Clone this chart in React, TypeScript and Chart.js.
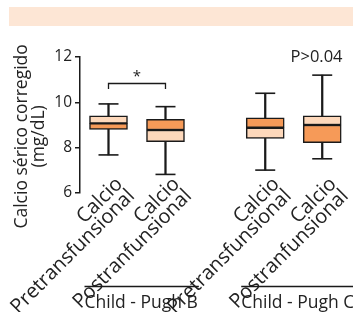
import React, { useEffect, useRef } from 'react';
import { Chart, registerables } from 'chart.js';

Chart.register(...registerables);

// ---- data ----
const groupNames = ['Child - Pugh B', 'Child - Pugh C'];
const categoryLabels = [
  ['Calcio', 'Pretransfunsional'],
  ['Calcio', 'Postranfunsional'],
  ['Calcio', 'Pretransfunsional'],
  ['Calcio', 'Postranfunsional'],
];
const groupOf = [0, 0, 1, 1];
const slotInGroup = [0, 1, 0, 1];
const whiskerLow = [7.68, 6.82, 7.01, 7.51];
const quartile1 = [8.81, 8.26, 8.41, 8.22];
const medians = [9.07, 8.78, 8.88, 9.0];
const quartile3 = [9.4, 9.25, 9.32, 9.4];
const whiskerHigh = [9.93, 9.81, 10.4, 11.2];
const yTickValues = [6, 8, 10, 12];
const yTitle = ['Calcio sérico corregido', '(mg/dL)'];
const sigPair = [0, 1];
const sigLabel = '*';
const sigBracketValue = 10.87;
const pValueLabel = 'P>0.04';
const pValueY = 12;

// ---- layout / style ----
const GROUP_STRIDE = 2.75;
const FONT = '"Open Sans", "DejaVu Sans", sans-serif';
const INK = '#1a1a1a';
const TEXT = '#222222';
const ORANGE = '#f69a58';
const LIGHT = '#fdd8bb';
const upperColors = [LIGHT, ORANGE, ORANGE, LIGHT];
const lowerColors = [ORANGE, LIGHT, LIGHT, ORANGE];
const LABEL_FONT_SIZE = 20;
const LABEL_LINE_HEIGHT = 17;

const xPos = (i: number) => groupOf[i] * GROUP_STRIDE + slotInGroup[i];
const xs = categoryLabels.map((_, i) => xPos(i));

const annotationPlugin = {
  id: 'annotations',
  afterDraw(chart: any) {
    const { ctx, chartArea } = chart;
    const x = chart.scales.x;
    const y = chart.scales.y;
    ctx.save();
    ctx.strokeStyle = INK;
    ctx.fillStyle = TEXT;
    ctx.lineWidth = 1.3;

    // rotated (-45deg), right-aligned category labels at the x scale positions
    ctx.font = `${LABEL_FONT_SIZE}px ${FONT}`;
    ctx.textAlign = 'right';
    ctx.textBaseline = 'middle';
    categoryLabels.forEach((lines, i) => {
      const px = x.getPixelForValue(xs[i]);
      ctx.save();
      ctx.translate(px + 11, chartArea.bottom - 12);
      ctx.rotate(-Math.PI / 4);
      lines.forEach((line, j) => ctx.fillText(line, 0, j * LABEL_LINE_HEIGHT));
      ctx.restore();
    });

    // significance bracket
    const xa = x.getPixelForValue(xs[sigPair[0]]);
    const xb = x.getPixelForValue(xs[sigPair[1]]);
    const yb = Math.round(y.getPixelForValue(sigBracketValue)) + 0.5;
    const yl = y.getPixelForValue(sigBracketValue - 0.28);
    ctx.beginPath();
    ctx.moveTo(xa, yl);
    ctx.lineTo(xa, yb);
    ctx.lineTo(xb, yb);
    ctx.lineTo(xb, yl);
    ctx.stroke();
    ctx.textAlign = 'center';
    ctx.textBaseline = 'middle';
    ctx.font = `15px ${FONT}`;
    ctx.fillText(sigLabel, (xa + xb) / 2, yb - 7);

    // p value
    ctx.font = `16.5px ${FONT}`;
    ctx.fillText(pValueLabel, x.getPixelForValue(xs[3] - 0.1), y.getPixelForValue(pValueY));

    // group labels
    ctx.font = `17.5px ${FONT}`;
    ctx.textAlign = 'left';
    groupNames.forEach((g, gi) => {
      const members = xs.filter((_, i) => groupOf[i] === gi);
      const left = x.getPixelForValue(Math.min(...members)) - 24;
      const textW = ctx.measureText(g).width;
      const right = Math.max(left + textW + 1, x.getPixelForValue(Math.max(...members)) + 31);
      const ly = Math.round(chartArea.bottom + 93) + 0.5;
      ctx.beginPath();
      ctx.moveTo(left, ly);
      ctx.lineTo(right, ly);
      ctx.stroke();
      ctx.fillText(g, left, ly + 17);
    });
    ctx.restore();
  },
};

export default function App() {
  const canvasRef = useRef<HTMLCanvasElement | null>(null);

  useEffect(() => {
    if (!canvasRef.current) return;
    const boxCommon = {
      type: 'bar' as const,
      borderColor: INK,
      borderWidth: 1.5,
      borderSkipped: false,
      barThickness: 38,
      grouped: false,
    };
    const chart = new Chart(canvasRef.current, {
      type: 'bar',
      data: {
        datasets: [
          {
            ...boxCommon,
            label: 'upper',
            data: xs.map((x, i) => ({ x, y: [medians[i], quartile3[i]] })),
            backgroundColor: upperColors,
          },
          {
            ...boxCommon,
            label: 'lower',
            data: xs.map((x, i) => ({ x, y: [quartile1[i], medians[i]] })),
            backgroundColor: lowerColors,
          },
          {
            type: 'bar',
            label: 'whiskerLow',
            data: xs.map((x, i) => ({ x, y: [whiskerLow[i], quartile1[i]] })),
            backgroundColor: INK,
            borderWidth: 0,
            barThickness: 1.6,
            grouped: false,
          },
          {
            type: 'bar',
            label: 'whiskerHigh',
            data: xs.map((x, i) => ({ x, y: [quartile3[i], whiskerHigh[i]] })),
            backgroundColor: INK,
            borderWidth: 0,
            barThickness: 1.6,
            grouped: false,
          },
          {
            type: 'scatter',
            label: 'caps',
            data: [
              ...xs.map((x, i) => ({ x, y: whiskerLow[i] })),
              ...xs.map((x, i) => ({ x, y: whiskerHigh[i] })),
            ],
            pointStyle: 'line',
            radius: 10,
            borderColor: INK,
            borderWidth: 1.6,
          },
        ] as any,
      },
      options: {
        animation: false,
        responsive: false,
        events: [],
        layout: { padding: { top: 57, left: 0, right: 0, bottom: 0 }, autoPadding: false },
        plugins: { legend: { display: false }, tooltip: { enabled: false } },
        scales: {
          x: {
            type: 'linear',
            min: -0.5,
            max: 4.29,
            offset: false,
            afterBuildTicks: (s: any) => {
              s.ticks = xs.map((v) => ({ value: v }));
            },
            afterFit: (s: any) => {
              s.height = 119;
              s.paddingLeft = 0;
              s.paddingRight = 0;
            },
            grid: { display: false, drawTicks: false },
            border: { display: false },
            ticks: { display: false },
          },
          y: {
            type: 'linear',
            min: 6,
            max: 12,
            afterBuildTicks: (s: any) => {
              s.ticks = yTickValues.map((v) => ({ value: v }));
            },
            afterFit: (s: any) => {
              s.width = 80;
            },
            border: { display: true, color: INK, width: 1.5 },
            grid: {
              display: true,
              drawOnChartArea: false,
              drawTicks: true,
              tickLength: 5,
              color: INK,
              lineWidth: 1.5,
            },
            ticks: { color: TEXT, padding: 3, font: { family: FONT, size: 15.5 } },
            title: {
              display: true,
              text: yTitle.map((t) => t + '     '),
              color: TEXT,
              font: { family: FONT, size: 17.5, lineHeight: 0.95 },
              padding: { top: 14, bottom: 0 },
            },
          },
        },
      } as any,
      plugins: [annotationPlugin],
    });
    return () => chart.destroy();
  }, []);

  return (
    <div style={{ position: 'fixed', left: 0, top: 0, width: 353, height: 312, background: '#ffffff', overflow: 'hidden' }}>
      <div
        style={{ position: 'absolute', left: 9, top: 7, width: 344, height: 19, background: '#fde6d5' }}
      />
      <canvas
        ref={canvasRef}
        width={353}
        height={312}
        style={{ position: 'absolute', left: 0, top: 0, width: 353, height: 312 }}
      />
    </div>
  );
}
